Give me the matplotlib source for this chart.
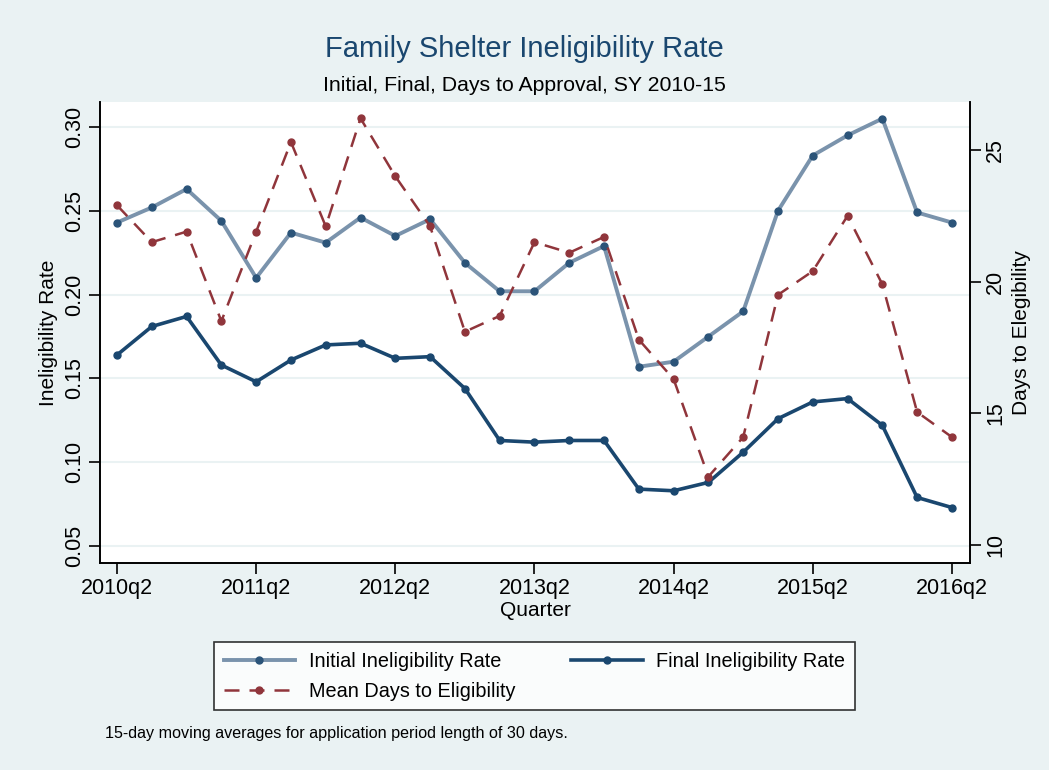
import matplotlib.pyplot as plt

plt.rcParams['font.family'] = ['Liberation Sans', 'DejaVu Sans']

# quarters 2010q2 .. 2016q2
quarters = list(range(25))
tick_pos = [0, 4, 8, 12, 16, 20, 24]
tick_labels = ['2010q2', '2011q2', '2012q2', '2013q2', '2014q2', '2015q2', '2016q2']

initial_rate = [0.243, 0.252, 0.263, 0.244, 0.210, 0.237, 0.231, 0.246, 0.235, 0.245,
                0.219, 0.202, 0.202, 0.219, 0.229, 0.157, 0.160, 0.175, 0.190, 0.250,
                0.283, 0.295, 0.305, 0.249, 0.243]
final_rate = [0.164, 0.181, 0.187, 0.158, 0.148, 0.161, 0.170, 0.171, 0.162, 0.163,
              0.144, 0.113, 0.112, 0.113, 0.113, 0.084, 0.083, 0.088, 0.106, 0.126,
              0.136, 0.138, 0.122, 0.079, 0.073]
mean_days = [22.9, 21.5, 21.9, 18.5, 21.9, 25.3, 22.1, 26.2, 24.0, 22.1,
             18.1, 18.7, 21.5, 21.1, 21.7, 17.8, 16.3, 12.6, 14.1, 19.5,
             20.4, 22.5, 19.9, 15.05, 14.1]

bg = '#EAF2F3'
navy = '#1A476F'
steel = '#7A93AC'
maroon = '#90353B'

fig = plt.figure(figsize=(10.49, 7.70), dpi=100, facecolor=bg)
ax = fig.add_axes([0.0953, 0.2688, 0.8294, 0.5987])
ax.set_facecolor('white')
ax2 = ax.twinx()

l1, = ax.plot(quarters, initial_rate, color=steel, lw=2.8, marker='o', ms=5,
              mfc='#2B5479', mec='#2B5479', zorder=3, label='Initial Ineligibility Rate')
l2, = ax.plot(quarters, final_rate, color=navy, lw=2.6, marker='o', ms=5,
              mfc=navy, mec=navy, zorder=3, label='Final Ineligibility Rate')
l3, = ax2.plot(quarters, mean_days, color=maroon, lw=1.8, ls=(0, (6, 4)), marker='o', ms=5,
               mfc=maroon, mec=maroon, label='Mean Days to Eligibility')

ax.set_xlim(-0.49, 24.52)
ax.set_ylim(0.0399, 0.3149)
ax2.set_ylim(9.32, 26.82)

ax.set_yticks([0.05, 0.10, 0.15, 0.20, 0.25, 0.30])
ax.set_yticklabels(['0.05', '0.10', '0.15', '0.20', '0.25', '0.30'], rotation=90, va='center')
ax2.set_yticks([10, 15, 20, 25])
ax2.set_yticklabels(['10', '15', '20', '25'], rotation=90, va='center')
ax.set_xticks(tick_pos)
ax.set_xticklabels(tick_labels)

ax.grid(axis='y', color=bg, lw=1.5)
ax.set_axisbelow(True)

for a in (ax, ax2):
    a.spines['top'].set_visible(False)
    for s in ('left', 'right', 'bottom'):
        a.spines[s].set_linewidth(1.2)
    a.tick_params(labelsize=15.5, length=8, width=1.2, colors='black', pad=3)

ax.set_xlabel('Quarter', fontsize=15, labelpad=1)
ax.set_ylabel('Ineligibility Rate', fontsize=15, labelpad=4)
ax2.set_ylabel('Days to Elegibility', fontsize=15, labelpad=4)

fig.text(0.5, 0.937, 'Family Shelter Ineligibility Rate', ha='center', va='center',
         fontsize=21, color=navy)
fig.text(0.5, 0.889, 'Initial, Final, Days to Approval, SY 2010-15', ha='center', va='center',
         fontsize=15.3)

# ncol=2 fills by column, so order handles to put Initial/Final on the first row
leg = fig.legend(handles=[l1, l3, l2], loc='center', bbox_to_anchor=(0.5095, 0.122),
                 ncol=2, fontsize=14.3, frameon=True, fancybox=False, handlelength=3.6,
                 columnspacing=2.8, borderpad=0.5, labelspacing=0.55, handletextpad=0.7)
leg.get_frame().set_edgecolor('black')
leg.get_frame().set_linewidth(1.2)

fig.text(0.1, 0.048, '15-day moving averages for application period length of 30 days.',
         fontsize=11.6, va='center')

fig.savefig('out.png', dpi=100, facecolor=bg)
